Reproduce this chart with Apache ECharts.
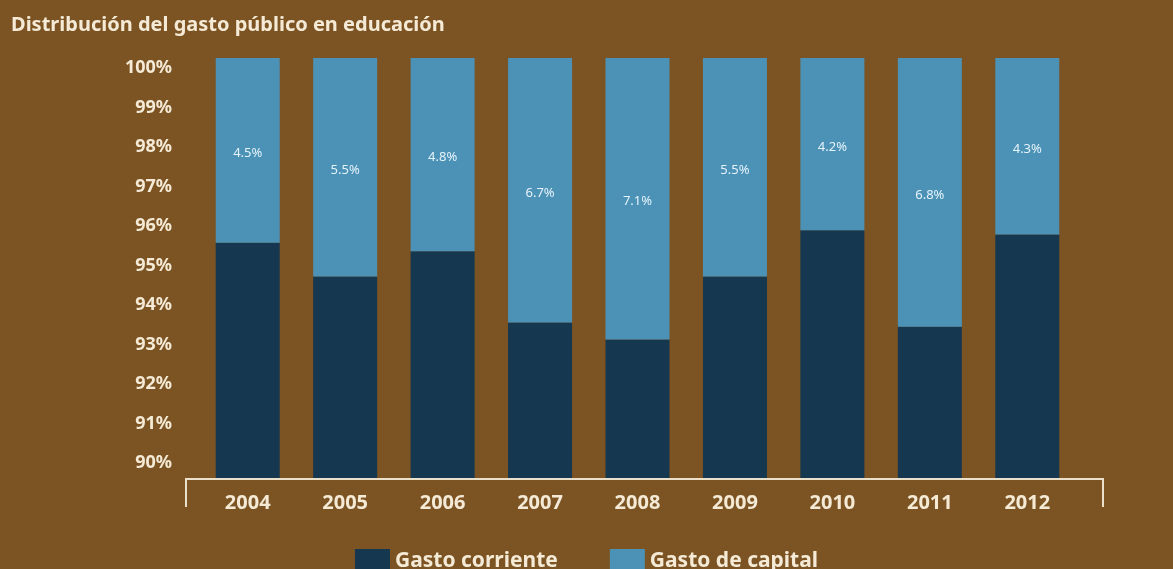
<!DOCTYPE html>
<html>
<head>
<meta charset="utf-8">
<script src="https://cdn.jsdelivr.net/npm/echarts@6/dist/echarts.min.js"></script>
<style>
  html, body { margin: 0; padding: 0; background: #7c5323; }
  #chart { width: 1173px; height: 569px; }
</style>
</head>
<body>
<div id="chart"></div>
<script>
// datos
var years = ['2004', '2005', '2006', '2007', '2008', '2009', '2010', '2011', '2012'];
var gastoCorriente = [95.6, 94.8, 95.4, 93.7, 93.3, 94.8, 95.9, 93.6, 95.8];
var gastoCapitalLabel = [4.5, 5.5, 4.8, 6.7, 7.1, 5.5, 4.2, 6.8, 4.3];

// la parte de capital completa la barra hasta 100%
var gastoCapital = gastoCorriente.map(function (v) { return +(100 - v).toFixed(1); });

var cream = '#f4ead5';
var fontFam = '"Noto Sans", "Open Sans", sans-serif';

var myChart = echarts.init(document.getElementById('chart'));
var option = {
    backgroundColor: '#7c5323',
    title: {
        text: 'Distribución del gasto público en educación',
        left: 6,
        top: 10,
        textStyle: { color: cream, fontSize: 20, fontWeight: 'bold', fontFamily: fontFam }
    },
    legend: {
        data: ['Gasto corriente', 'Gasto de capital'],
        top: 544,
        left: 'center',
        itemWidth: 35,
        itemHeight: 25,
        itemGap: 52,
        icon: 'rect',
        textStyle: { color: cream, fontSize: 21, fontWeight: 'bold', fontFamily: fontFam }
    },
    grid: { left: 199, right: 97, top: 58, bottom: 91 },
    xAxis: {
        type: 'category',
        data: years,
        axisLine: { show: false },
        axisTick: { show: false },
        axisLabel: { color: cream, fontSize: 20, fontWeight: 'bold', fontFamily: fontFam, margin: 15 }
    },
    yAxis: [{
        type: 'value',
        min: 90,
        max: 100,
        show: false
    }, {
        // eje solo para las etiquetas (en el original no coinciden con las barras)
        type: 'value',
        position: 'left',
        min: 89.62,
        max: 100.25,
        splitNumber: 10,
        axisLine: { show: false },
        axisTick: { show: false },
        splitLine: { show: false },
        axisLabel: {
            color: cream,
            fontSize: 18,
            fontWeight: 'bold',
            fontFamily: fontFam,
            margin: 27,
            formatter: function (v) {
                return Math.abs(v - Math.round(v)) < 1e-6 ? Math.round(v) + '%' : '';
            }
        }
    }],
    graphic: [{
        type: 'polyline',
        shape: { points: [[186, 507], [186, 479], [1103, 479], [1103, 507]] },
        style: { stroke: '#ebe1cb', lineWidth: 2, fill: null }
    }],
    series: [{
        name: 'Gasto corriente',
        type: 'bar',
        stack: 'total',
        yAxisIndex: 0,
        data: gastoCorriente,
        barWidth: 64
    }, {
        name: 'Gasto de capital',
        type: 'bar',
        stack: 'total',
        yAxisIndex: 0,
        data: gastoCapital,
        barWidth: 64,
        label: {
            show: true,
            position: 'inside',
            offset: [0, 3],
            color: '#e6f3fb',
            fontSize: 13,
            fontFamily: fontFam,
            formatter: function (p) { return gastoCapitalLabel[p.dataIndex].toFixed(1) + '%'; }
        }
    }],
    color: ['#15374f', '#4b92b6']
};
myChart.setOption(option);
</script>
</body>
</html>
